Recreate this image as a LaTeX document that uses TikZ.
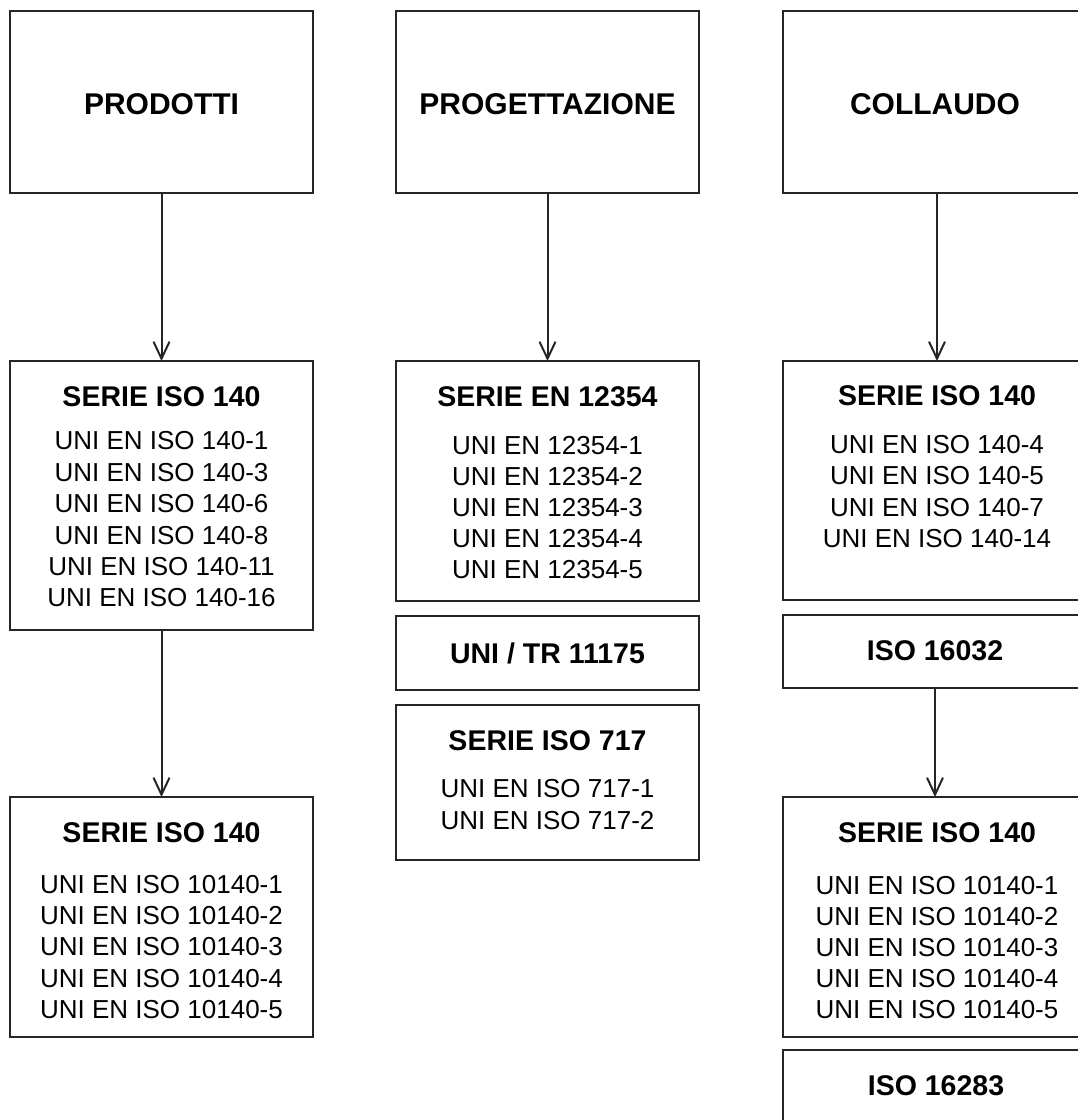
\documentclass[tikz,border=0pt]{standalone}
\usepackage{fontspec}
\setmainfont{Liberation Sans}
\usetikzlibrary{arrows.meta}
\tikzset{
  box/.style={draw=black!85, line width=2pt, fill=none, inner sep=0pt, outer sep=0pt},
  ttl/.style={inner sep=0pt, font=\fontsize{30}{36}\selectfont\bfseries},
  head/.style={inner sep=0pt, font=\fontsize{28.5}{34}\selectfont\bfseries},
  lst/.style={inner sep=0pt, align=center, font=\fontsize{26}{31.2}\selectfont},
  conn/.style={draw=black!85, line width=2pt, -{Straight Barb[length=17pt,width=16pt,line width=2pt]}},
}
\begin{document}
\begin{tikzpicture}[x=1pt,y=-1pt]
\useasboundingbox (0,0) rectangle (1078,1120);
\fill[white] (0,0) rectangle (1078,1120);
% top boxes
\node[box, minimum width=303pt, minimum height=182pt] (prod) at (161.5,102) {};
\node[box, minimum width=303pt, minimum height=182pt] (prog) at (547.5,102) {};
\node[box, minimum width=304pt, minimum height=182pt] (coll) at (935,102) {};
\node[ttl] (tprod) at (161.5,104) {PRODOTTI};
\node[ttl] (tprog) at (547.5,104) {PROGETTAZIONE};
\node[ttl] (tcoll) at (935,104) {COLLAUDO};
% left column
\node[box, minimum width=303pt, minimum height=269pt] (s1) at (161.5,495.5) {};
\node[head] (hs1) at (161.5,397) {SERIE ISO 140};
\node[lst, font=\fontsize{26}{31.4}\selectfont] (ls1) at (161.5,519.5) {UNI EN ISO 140-1\\UNI EN ISO 140-3\\UNI EN ISO 140-6\\UNI EN ISO 140-8\\UNI EN ISO 140-11\\UNI EN ISO 140-16};
\node[box, minimum width=303pt, minimum height=240pt] (s2) at (161.5,917) {};
\node[head] (hs2) at (161.5,833) {SERIE ISO 140};
\node[lst] (ls2) at (161.5,947) {UNI EN ISO 10140-1\\UNI EN ISO 10140-2\\UNI EN ISO 10140-3\\UNI EN ISO 10140-4\\UNI EN ISO 10140-5};
% middle column
\node[box, minimum width=303pt, minimum height=240pt] (en) at (547.5,481) {};
\node[head] (hen) at (547.5,397) {SERIE EN 12354};
\node[lst, font=\fontsize{26}{30.8}\selectfont] (len) at (547.5,507.5) {UNI EN 12354-1\\UNI EN 12354-2\\UNI EN 12354-3\\UNI EN 12354-4\\UNI EN 12354-5};
\node[box, minimum width=303pt, minimum height=74pt] (tr) at (547.5,653) {};
\node[head] (htr) at (547.5,653) {UNI / TR 11175};
\node[box, minimum width=303pt, minimum height=155pt] (iso) at (547.5,782.5) {};
\node[head] (hiso) at (547.5,741) {SERIE ISO 717};
\node[lst] (liso) at (547.5,804.5) {UNI EN ISO 717-1\\UNI EN ISO 717-2};
% right column
\node[box, minimum width=304pt, minimum height=239pt] (rs1) at (935,480.5) {};
\node[head] (hrs1) at (937,396) {SERIE ISO 140};
\node[lst] (lrs1) at (937,491.5) {UNI EN ISO 140-4\\UNI EN ISO 140-5\\UNI EN ISO 140-7\\UNI EN ISO 140-14};
\node[box, minimum width=304pt, minimum height=73pt] (r16032) at (935,651.5) {};
\node[head] (hr16032) at (935,651) {ISO 16032};
\node[box, minimum width=304pt, minimum height=240pt] (rs2) at (935,917) {};
\node[head] (hrs2) at (937,833) {SERIE ISO 140};
\node[lst] (lrs2) at (937,947.5) {UNI EN ISO 10140-1\\UNI EN ISO 10140-2\\UNI EN ISO 10140-3\\UNI EN ISO 10140-4\\UNI EN ISO 10140-5};
\node[box, minimum width=304pt, minimum height=80pt] (r16283) at (935,1090) {};
\node[head] (hr16283) at (936,1086) {ISO 16283};
% connectors
\draw[conn] (prod.south) -- (s1.north);
\draw[conn] (s1.south) -- (s2.north);
\draw[conn] (prog.south) -- (en.north);
\draw[conn] ([xshift=2pt]coll.south) -- ([xshift=2pt]rs1.north);
\draw[conn] (r16032.south) -- (rs2.north);
\end{tikzpicture}
\end{document}
